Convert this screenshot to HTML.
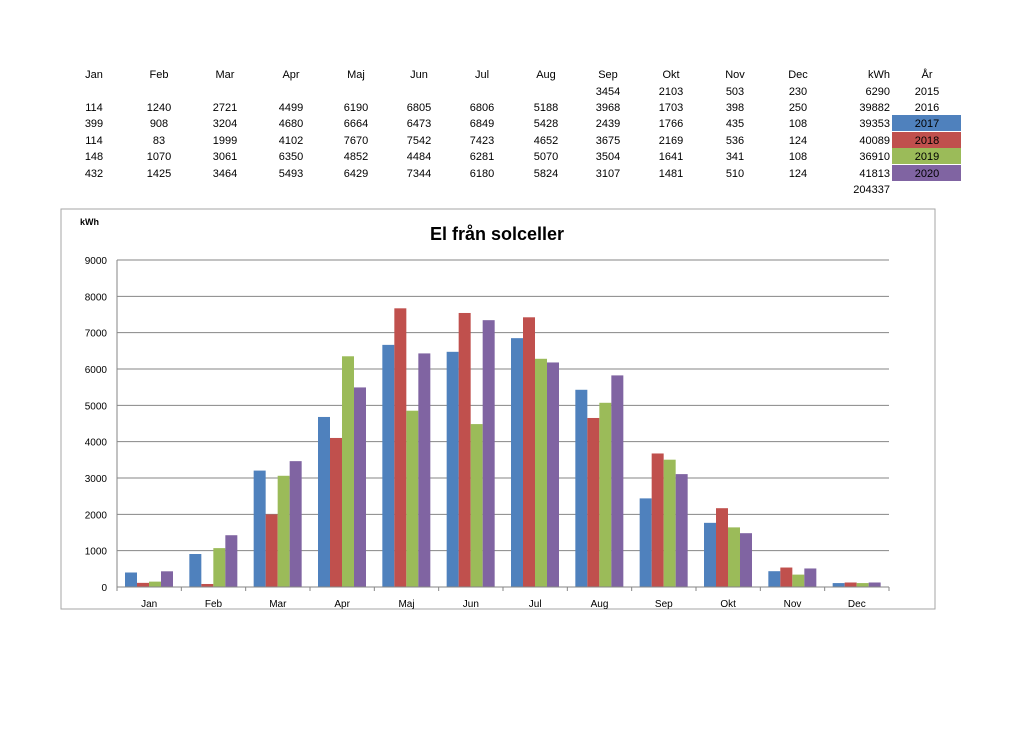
<!DOCTYPE html>
<html><head><meta charset="utf-8"><style>
body{margin:0;background:#fff;width:1024px;height:724px;overflow:hidden;font-family:"Liberation Sans",sans-serif}
svg text{font-family:"Liberation Sans",sans-serif}
</style></head><body>
<svg width="1024" height="724">
<g id="table"></g>
<rect x="61" y="209" width="874" height="400" fill="#fff" stroke="#a6a6a6"/>
<text x="80" y="225" font-size="9" font-weight="bold">kWh</text>
<text x="497" y="240" font-size="18" font-weight="bold" text-anchor="middle">El från solceller</text>
<g id="chart"></g>
</svg>
<script>
const months=["Jan","Feb","Mar","Apr","Maj","Jun","Jul","Aug","Sep","Okt","Nov","Dec"];
const years=["2015","2016","2017","2018","2019","2020"];
const rows2015=[null,null,null,null,null,null,null,null,3454,2103,503,230];
const rows2016=[114,1240,2721,4499,6190,6805,6806,5188,3968,1703,398,250];
const s2017=[399,908,3204,4680,6664,6473,6849,5428,2439,1766,435,108];
const s2018=[114,83,1999,4102,7670,7542,7423,4652,3675,2169,536,124];
const s2019=[148,1070,3061,6350,4852,4484,6281,5070,3504,1641,341,108];
const s2020=[432,1425,3464,5493,6429,7344,6180,5824,3107,1481,510,124];
const totals=[6290,39882,39353,40089,36910,41813];
const grandTotal=204337;
const yTicks=[0,1000,2000,3000,4000,5000,6000,7000,8000,9000];
const colors=["#4f81bd","#c0504d","#9bbb59","#8064a2"];
const NS="http://www.w3.org/2000/svg";
function mk(p,t,a){const e=document.createElementNS(NS,t);for(const k in a)e.setAttribute(k,a[k]);p.appendChild(e);return e;}
// table
const tb=document.getElementById('table');
const colX=[94,159,225,291,356,419,482,546,608,671,735,798];
const rowY=[78,95,111,127,144,160,177,193];
months.forEach((m,i)=>{const t=mk(tb,'text',{x:colX[i],y:rowY[0],'font-size':11,'text-anchor':'middle'});t.textContent=m;

});
let h=mk(tb,'text',{x:890,y:rowY[0],'font-size':11,'text-anchor':'end'});h.textContent='kWh';
h=mk(tb,'text',{x:927,y:rowY[0],'font-size':11,'text-anchor':'middle'});h.textContent='År';
const all=[rows2015,rows2016,s2017,s2018,s2019,s2020];
all.forEach((r,ri)=>{const y=rowY[ri+1];
 if(ri>=2){const c=mk(tb,'rect',{x:892,y:y-12,width:69,height:16,fill:colors[ri-2]});
  
  }
 r.forEach((v,i)=>{if(v==null)return;const t=mk(tb,'text',{x:colX[i],y:y,'font-size':11,'text-anchor':'middle'});t.textContent=v;});
 let t=mk(tb,'text',{x:890,y:y,'font-size':11,'text-anchor':'end'});t.textContent=totals[ri];
 t=mk(tb,'text',{x:927,y:y,'font-size':11,'text-anchor':'middle'});t.textContent=years[ri];
});
h=mk(tb,'text',{x:890,y:rowY[7],'font-size':11,'text-anchor':'end'});h.textContent=grandTotal;
// chart
const g=document.getElementById('chart');
const x0=117,x1=889,yb=587,yt=260,ymax=9000;
const yS=v=>yb-(v/ymax)*(yb-yt);
const cw=(x1-x0)/months.length;
yTicks.forEach(v=>{
 if(v>0)mk(g,'line',{x1:x0,x2:x1,y1:yS(v),y2:yS(v),stroke:'#868686','stroke-width':1});
 const t=mk(g,'text',{x:x0-10,y:yS(v)+4,'font-size':10,'text-anchor':'end'});t.textContent=v;
 
 
});
const series=[s2017,s2018,s2019,s2020];
const bw=12;
series.forEach((s,si)=>s.forEach((v,i)=>{
 const x=x0+i*cw+8+si*bw;
 const r=mk(g,'rect',{x:x,y:yS(v),width:bw,height:yb-yS(v),fill:colors[si]});
 
 
}));
mk(g,'line',{x1:x0,x2:x0,y1:yt,y2:yb,stroke:'#868686'});
mk(g,'line',{x1:x0,x2:x1,y1:yb,y2:yb,stroke:'#868686'});
months.forEach((m,i)=>{
 mk(g,'line',{x1:x0+i*cw,x2:x0+i*cw,y1:yb,y2:yb+4,stroke:'#868686'});
 const t=mk(g,'text',{x:x0+(i+.5)*cw,y:yb+20,'font-size':10,'text-anchor':'middle'});t.textContent=m;
 
 
});
mk(g,'line',{x1:x1,x2:x1,y1:yb,y2:yb+4,stroke:'#868686'});
</script>
</body></html>
